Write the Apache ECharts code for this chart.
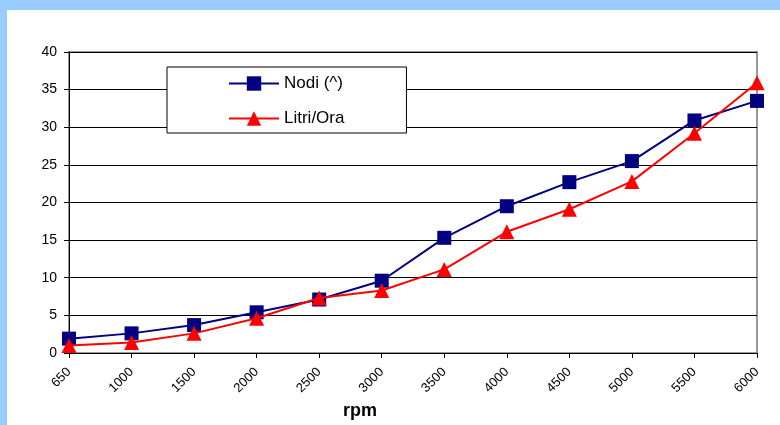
<!DOCTYPE html>
<html>
<head>
<meta charset="utf-8">
<script src="https://cdn.jsdelivr.net/npm/echarts@6/dist/echarts.min.js"></script>
<style>html,body{margin:0;padding:0;}#c{width:780px;height:425px;}</style>
</head>
<body>
<div id="c"></div>
<script>
var categories = ['650','1000','1500','2000','2500','3000','3500','4000','4500','5000','5500','6000'];
var nodi = [1.9, 2.6, 3.7, 5.4, 7.1, 9.6, 15.3, 19.5, 22.7, 25.5, 30.9, 33.5];
var litri = [1.0, 1.4, 2.6, 4.6, 7.3, 8.3, 11.1, 16.1, 19.1, 22.8, 29.2, 35.9];
var yTicks = [0, 5, 10, 15, 20, 25, 30, 35, 40];

var chart = echarts.init(document.getElementById('c'));
chart.setOption({
  backgroundColor: '#99CCFF',
  animation: false,
  graphic: [{type:'rect', z: -10, shape:{x:7,y:10,width:773,height:415}, style:{fill:'#ffffff'}}],
  grid: {left: 69, top: 52, width: 688, height: 303, show: true, borderColor: '#999999', borderWidth: 2, backgroundColor: 'transparent'},
  legend: {
    orient: 'vertical', left: 167, top: 67,
    backgroundColor: '#ffffff', borderColor: '#000000', borderWidth: 1,
    padding: [8, 62, 6, 61], itemGap: 18, itemWidth: 50, itemHeight: 18,
    textStyle: {fontFamily: 'Liberation Sans', fontSize: 17, color: '#000'},
    data: ['Nodi (^)', 'Litri/Ora']
  },
  xAxis: {
    type: 'category', data: categories, boundaryGap: false,
    axisLine: {lineStyle: {color: '#000', width: 1}},
    axisTick: {show: true, length: 5, lineStyle: {color: '#000'}},
    axisLabel: {rotate: 45, fontFamily: 'Liberation Sans', fontSize: 13, color: '#000', margin: 17},
    name: 'rpm', nameLocation: 'middle', nameGap: 44,
    nameTextStyle: {fontFamily: 'Liberation Sans', fontSize: 18, fontWeight: 'bold', color: '#000', padding: [0, 106, 0, 0]}
  },
  yAxis: {
    type: 'value', min: yTicks[0], max: yTicks[yTicks.length-1], interval: 5,
    axisLine: {show: true, lineStyle: {color: '#000'}},
    axisTick: {show: true, length: 5, lineStyle: {color: '#000'}},
    axisLabel: {fontFamily: 'Liberation Sans', fontSize: 14, color: '#000', margin: 12},
    splitLine: {show: true, lineStyle: {color: '#000', width: 1}}
  },
  series: [
    {name: 'Nodi (^)', type: 'line', data: nodi, symbol: 'rect', symbolSize: 14,
     lineStyle: {color: '#000080', width: 2}, itemStyle: {color: '#000080'}, z: 3},
    {name: 'Litri/Ora', type: 'line', data: litri, symbol: 'triangle', symbolSize: 15,
     lineStyle: {color: '#FF0000', width: 2}, itemStyle: {color: '#FF0000'}, z: 4}
  ]
});
</script>
</body>
</html>
